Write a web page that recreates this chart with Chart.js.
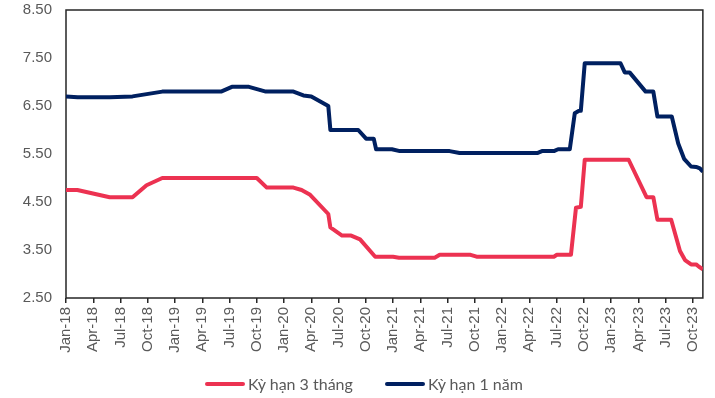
<!DOCTYPE html>
<html lang="vi">
<head>
<meta charset="utf-8">
<title>Lãi suất</title>
<script src="https://cdn.jsdelivr.net/npm/chart.js@4.4.1/dist/chart.umd.min.js"></script>
<style>
  html, body { margin: 0; padding: 0; background: #ffffff; overflow: hidden; }
  #wrap { width: 715px; height: 398px; position: relative; }
  #legend {
    position: absolute; left: 205px; top: 374px; height: 20px;
    display: flex; align-items: center;
    font-family: 'Lato', sans-serif; font-size: 16px; line-height: 20px; color: #595959;
    white-space: nowrap;
  }
  #legend .item { display: flex; align-items: center; margin-right: 32px; }
  #legend .item:last-child { margin-right: 0; }
  #legend .swatch { width: 40px; height: 4px; border-radius: 2px; margin-right: 3px; }
</style>
</head>
<body>
<div id="wrap">
  <canvas id="chart"></canvas>
  <div id="legend"></div>
</div>
<script>
// Series names
const seriesNames = ['Kỳ hạn 3 tháng', 'Kỳ hạn 1 năm'];

// Quarterly labels on the time axis
const tickLabels = ['Jan-18','Apr-18','Jul-18','Oct-18','Jan-19','Apr-19','Jul-19','Oct-19',
  'Jan-20','Apr-20','Jul-20','Oct-20','Jan-21','Apr-21','Jul-21','Oct-21',
  'Jan-22','Apr-22','Jul-22','Oct-22','Jan-23','Apr-23','Jul-23','Oct-23'];

// Rate axis ticks (%)
const rateTicks = [2.5, 3.5, 4.5, 5.5, 6.5, 7.5, 8.5];

// 3-month term: dates where the rate changes, and the rate (%)
const dates3m = ['2018-01-01','2018-02-08','2018-05-26','2018-08-11','2018-09-27','2018-11-19',
  '2019-10-01','2019-11-04','2020-02-02','2020-02-28','2020-03-28',
  '2020-05-28','2020-06-04','2020-07-13','2020-08-13','2020-09-12',
  '2020-11-02','2021-01-01','2021-01-21','2021-05-19','2021-06-05',
  '2021-09-17','2021-10-07','2022-06-22','2022-07-02','2022-08-19',
  '2022-09-05','2022-09-21','2022-10-04','2023-02-27','2023-04-28',
  '2023-05-21','2023-06-04','2023-07-20','2023-08-19','2023-09-05',
  '2023-09-25','2023-10-12','2023-10-22','2023-11-04'];
const rates3m = [4.75,4.75,4.60,4.60,4.85,5.00,
  5.00,4.80,4.80,4.75,4.65,
  4.25,3.97,3.80,3.80,3.72,
  3.36,3.36,3.34,3.34,3.40,
  3.40,3.36,3.36,3.40,3.40,
  4.38,4.40,5.38,5.38,4.60,
  4.60,4.13,4.13,3.48,3.29,
  3.20,3.20,3.15,3.10];

// 1-year term
const dates1y = ['2018-01-01','2018-02-09','2018-05-26','2018-08-11','2018-11-19',
  '2019-06-03','2019-07-09','2019-09-05','2019-11-01','2020-02-02',
  '2020-03-05','2020-04-01','2020-05-28','2020-06-04','2020-09-06',
  '2020-10-02','2020-10-28','2020-11-05','2020-12-28','2021-01-24',
  '2021-07-08','2021-08-11','2022-04-27','2022-05-13','2022-06-22',
  '2022-07-06','2022-08-15','2022-09-01','2022-09-15','2022-09-21',
  '2022-10-04','2023-02-02','2023-02-15','2023-03-02','2023-04-25',
  '2023-05-21','2023-06-04','2023-07-22','2023-08-13','2023-09-02',
  '2023-09-25','2023-10-12','2023-10-25','2023-11-04'];
const rates1y = [6.70,6.68,6.68,6.70,6.80,
  6.80,6.90,6.90,6.80,6.80,
  6.72,6.70,6.50,6.00,6.00,
  5.82,5.82,5.60,5.60,5.56,
  5.56,5.52,5.52,5.56,5.56,
  5.60,5.60,6.35,6.40,6.40,
  7.39,7.39,7.20,7.20,6.80,
  6.80,6.28,6.28,5.72,5.40,
  5.24,5.23,5.20,5.13];

// Months elapsed since Jan 2018 (fractional, by day of month)
function monthPos(s) {
  const [y, m, d] = s.split('-').map(Number);
  const daysInMonth = new Date(y, m, 0).getDate();
  return (y - 2018) * 12 + (m - 1) + (d - 1) / daysInMonth;
}
const toPoints = (dates, rates) => dates.map((d, i) => ({ x: monthPos(d), y: rates[i] }));

const RED = '#EC3251';
const NAVY = '#002060';
const TEXT = '#595959';

// Frame around the plotting area
const frame = {
  id: 'frame',
  beforeDatasetsDraw(chart) {
    const { ctx, chartArea: a } = chart;
    ctx.save();
    ctx.strokeStyle = '#262626';
    ctx.lineWidth = 1.5;
    ctx.strokeRect(a.left, a.top, a.right - a.left, a.bottom - a.top);
    ctx.restore();
  }
};

// Legend row below the axis, built from the datasets
const htmlLegend = {
  id: 'htmlLegend',
  afterUpdate(chart) {
    const box = document.getElementById('legend');
    box.innerHTML = '';
    chart.data.datasets.forEach(ds => {
      const item = document.createElement('span');
      item.className = 'item';
      const sw = document.createElement('span');
      sw.className = 'swatch';
      sw.style.background = ds.borderColor;
      const tx = document.createElement('span');
      tx.textContent = ds.label;
      item.appendChild(sw);
      item.appendChild(tx);
      box.appendChild(item);
    });
  }
};

new Chart(document.getElementById('chart'), {
  type: 'line',
  data: {
    datasets: [
      { label: seriesNames[0], data: toPoints(dates3m, rates3m), borderColor: RED, backgroundColor: RED },
      { label: seriesNames[1], data: toPoints(dates1y, rates1y), borderColor: NAVY, backgroundColor: NAVY }
    ]
  },
  options: {
    responsive: true,
    maintainAspectRatio: false,
    animation: false,
    devicePixelRatio: 1,
    layout: { padding: { top: 10, right: 8, bottom: 40, left: 20 } },
    elements: {
      line: { borderWidth: 4, tension: 0, borderJoinStyle: 'round', fill: false },
      point: { radius: 0, hoverRadius: 0 }
    },
    scales: {
      x: {
        type: 'linear',
        min: 0,
        max: monthPos(dates1y[dates1y.length - 1]),
        afterBuildTicks: s => { s.ticks = tickLabels.map((_, i) => ({ value: i * 3 })); },
        afterFit: s => { s.height = 60; },
        ticks: {
          autoSkip: false, maxRotation: 90, minRotation: 90, padding: 4,
          color: TEXT, font: { family: 'Liberation Sans', size: 15 },
          callback: v => tickLabels[Math.round(v / 3)]
        },
        grid: { display: true, drawOnChartArea: false, drawTicks: true, tickLength: 5, color: '#262626', lineWidth: 1.5 },
        border: { display: false }
      },
      y: {
        min: 2.5,
        max: 8.5,
        afterBuildTicks: s => { s.ticks = rateTicks.map(v => ({ value: v })); },
        afterFit: s => { s.width = 46; },
        ticks: {
          padding: 0, color: TEXT, font: { family: 'Liberation Sans', size: 15 },
          callback: v => Number(v).toFixed(2)
        },
        grid: { display: false, drawTicks: true, tickLength: 14 },
        border: { display: false }
      }
    },
    plugins: {
      tooltip: { enabled: false },
      legend: { display: false }
    }
  },
  plugins: [frame, htmlLegend]
});
</script>
</body>
</html>
